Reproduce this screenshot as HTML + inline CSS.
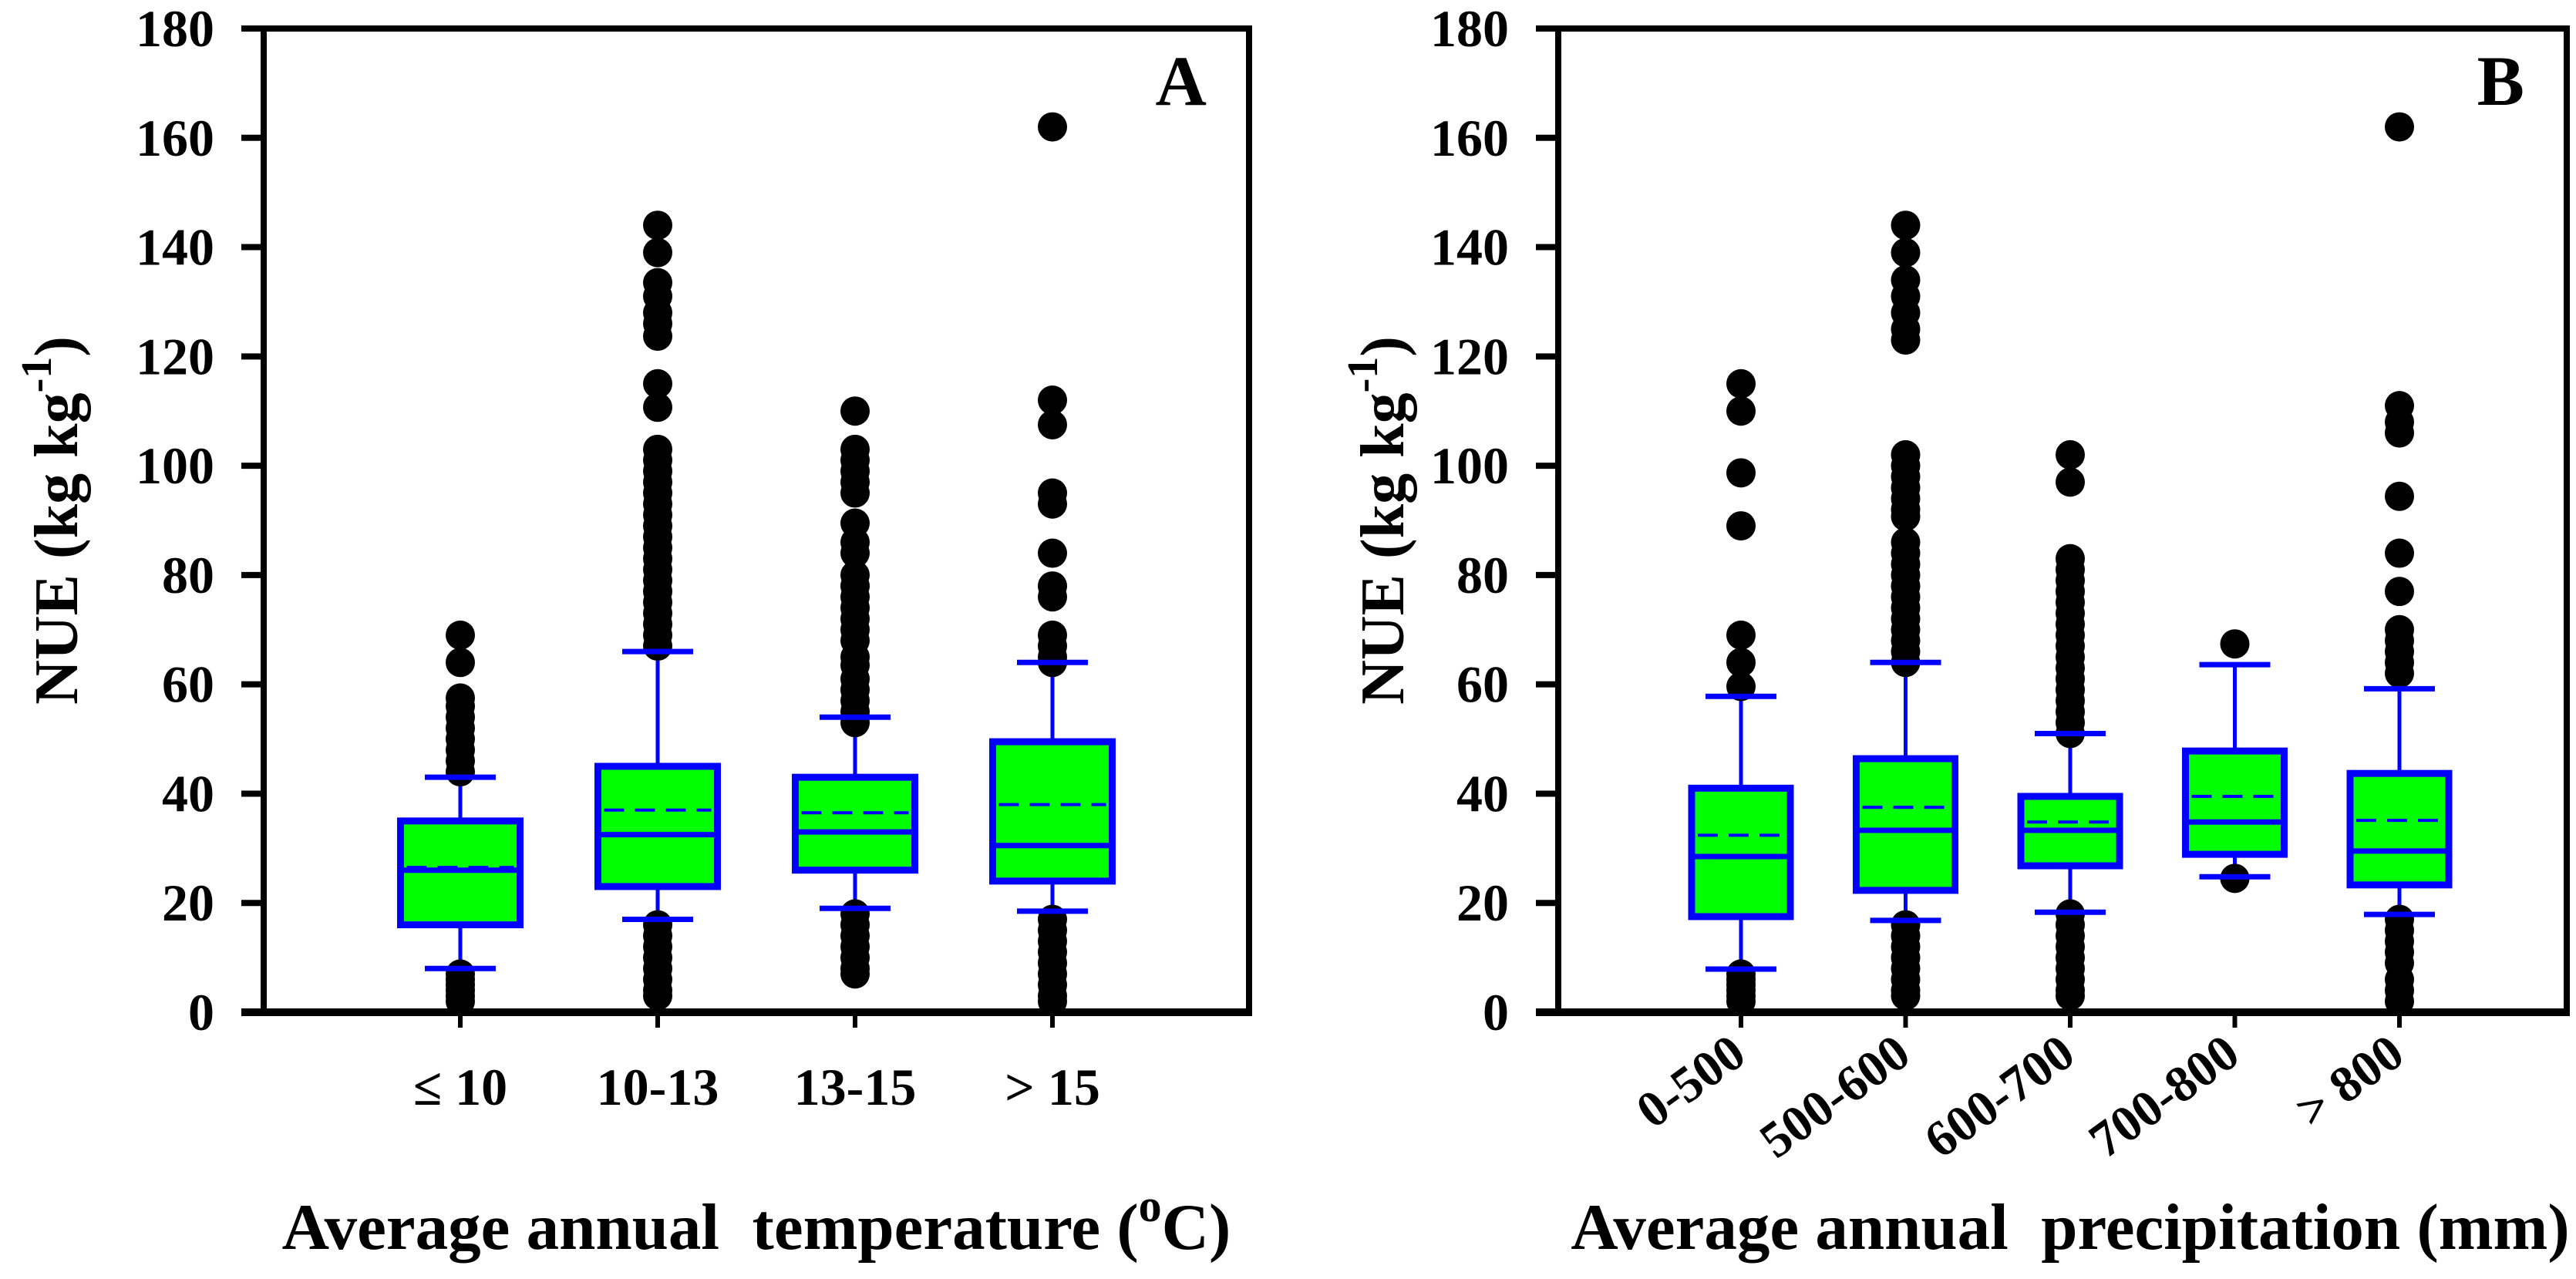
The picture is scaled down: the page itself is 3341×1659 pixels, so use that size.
<!DOCTYPE html>
<html><head><meta charset="utf-8"><style>
html,body{margin:0;padding:0;background:#fff;}
svg{display:block;}
text{font-family:"Liberation Serif",serif;font-weight:bold;fill:#000;}
</style></head><body>
<svg id="chart" width="3341" height="1659" viewBox="0 0 3341 1659" xmlns="http://www.w3.org/2000/svg">
<rect x="0" y="0" width="3341" height="1659" fill="#ffffff"/>
</svg>
<script>
// ---------- data ----------
const yTicks = [0,20,40,60,80,100,120,140,160,180];
const catsA = ["≤ 10","10-13","13-15","> 15"];
const q1A  = [16, 23, 26, 24];
const medA = [26, 32.5, 33, 30.5];
const meanA= [26.5, 37, 36.5, 38];
const q3A  = [35, 45, 43, 49.5];
const lowA = [8, 17, 19, 18.5];
const highA= [43, 66, 54, 64];
const outA0 = [69,64,57.5,56,54,52,50,48,46,44, 7,6,5,4,3,2];
const outA1 = [144,139,133.5,131,128,126,123.7,115,110.7,103,101,99,97,95,93,91,89,87,85,83,81,79,77,75,73,71,69,67, 16,14,12,10,8,6,4,3];
const outA2 = [110,103,101,99,97,95,89.5,86,84,80,78,76,74,72,70,68,65,63.5,61,59,57,55,53, 18,16,14,12,10,8,7];
const outA3 = [162,112,107.5,95,93,84,78,76,69,67,65,64, 17,15,13,11,9,7,5,3,2];
const catsB = ["0-500","500-600","600-700","700-800","> 800"];
const q1B  = [17.5, 22.3, 26.8, 28.9, 23.3];
const medB = [28.5, 33.3, 33.3, 34.8, 29.5];
const meanB= [32.4, 37.5, 34.8, 39.5, 35.1];
const q3B  = [41, 46.4, 39.5, 47.8, 43.7];
const lowB = [7.9, 16.8, 18.3, 24.8, 17.9];
const highB= [57.8, 64, 51, 63.6, 59.2];
const outB0 = [115,110,98.7,89,69,64,59.6, 7,6,5,4,3,2];
const outB1 = [144,139,134,131,128,125,123,102,100,98,96,94,92,90.7,86,84,82,80,78,76,74,72,70,68,66,64, 16,14,12,10,8,6,4,3];
const outB2 = [102,97,83,81,79,77,75,73,71,69,67,65,63,61,59,57,55,53,51, 18,16,14,12,10,8,6,4,3];
const outB3 = [67.4, 24.5];
const outB4 = [162,111,108,106,94.4,84,77,70,68,66,64,62, 17,15,13,11,9,6,4,2];
</script>
<script>
const NS = "http://www.w3.org/2000/svg";
const svg = document.getElementById("chart");
function mk(tag, attrs, parent){
  const e = document.createElementNS(NS, tag);
  for (const k in attrs) e.setAttribute(k, attrs[k]);
  (parent||svg).appendChild(e);
  return e;
}
const Y0 = 1313, Y180 = 37;
function yS(v){ return Y0 - (v/180)*(Y0-Y180); }

function panel(opt){
  const g = mk("g", {});
  
  
  const L = opt.left, R = opt.right;
  function xS(i){ return opt.x0 + i*opt.step; }
  const fr = mk("rect", {x:L, y:Y180, width:R-L, height:Y0-Y180, fill:"none", stroke:"#000", "stroke-width":8}, g);
  
  
  yTicks.forEach(v=>{
    const t = mk("line", {x1:L-29, x2:L, y1:yS(v), y2:yS(v), stroke:"#000", "stroke-width":8}, g);
    
    
    const tx = mk("text", {x:L-64, y:yS(v)+23, "text-anchor":"end", "font-size":68}, g);
    tx.textContent = v;
    
    
  });
  opt.cats.forEach((c,i)=>{
    const cx = xS(i);
    const bg = mk("g", {}, g);
    
    
    const tk = mk("line", {x1:cx, x2:cx, y1:Y0, y2:Y0+20, stroke:"#000", "stroke-width":6}, g);
    
    
    const bw = opt.bw, cw = 92;
    const w1 = mk("line", {x1:cx, x2:cx, y1:yS(opt.q3[i]), y2:yS(opt.high[i]), stroke:"#0000ff", "stroke-width":5}, bg);
    
    
    const w2 = mk("line", {x1:cx, x2:cx, y1:yS(opt.q1[i]), y2:yS(opt.low[i]), stroke:"#0000ff", "stroke-width":5}, bg);
    
    
    opt.outs[i].forEach(v=>{
      const d = mk("circle", {cx:cx, cy:yS(v), r:19, fill:"#000"}, bg);
      
      
    });
    const c1 = mk("line", {x1:cx-cw/2, x2:cx+cw/2, y1:yS(opt.high[i]), y2:yS(opt.high[i]), stroke:"#0000ff", "stroke-width":7}, bg);
    
    
    const c2 = mk("line", {x1:cx-cw/2, x2:cx+cw/2, y1:yS(opt.low[i]), y2:yS(opt.low[i]), stroke:"#0000ff", "stroke-width":7}, bg);
    
    
    const b = mk("rect", {x:cx-bw/2, y:yS(opt.q3[i]), width:bw, height:yS(opt.q1[i])-yS(opt.q3[i]), fill:"#00ff00", stroke:"#0000ff", "stroke-width":9}, bg);
    
    
    const md = mk("line", {x1:cx-bw/2, x2:cx+bw/2, y1:yS(opt.med[i]), y2:yS(opt.med[i]), stroke:"#0000ff", "stroke-width":7}, bg);
    
    
    const mn = mk("line", {x1:cx-bw/2+8, x2:cx+bw/2-8, y1:yS(opt.mean[i]), y2:yS(opt.mean[i]), stroke:"#0000ff", "stroke-width":4, "stroke-dasharray":"26 14"}, bg);
    
    
    let lb;
    if (opt.rotate){
      lb = mk("text", {x:cx+10, y:Y0+62, "text-anchor":"end", "font-size":66, transform:"rotate(-36 "+(cx+10)+" "+(Y0+62)+")"}, g);
    } else {
      lb = mk("text", {x:cx, y:Y0+120, "text-anchor":"middle", "font-size":68}, g);
    }
    lb.textContent = c;
    
    
  });
  const ax = mk("line", {x1:L-29, x2:R+4, y1:Y0, y2:Y0, stroke:"#000", "stroke-width":10}, g);
  
  
  const yt = mk("text", {x:0, y:0, "text-anchor":"middle", "font-size":80, transform:"translate("+(opt.ytx)+",675) rotate(-90)"}, g);
  
  
  yt.appendChild(document.createTextNode("NUE (kg kg"));
  const sp = mk("tspan", {"font-size":56, dy:-34}, yt);
  sp.textContent = "-1";
  const sp2 = mk("tspan", {dy:34}, yt);
  sp2.textContent = ")";
  const xt = mk("text", {x:opt.xtx, y:1620, "text-anchor":"middle", "font-size":85}, g);
  
  
  xt.appendChild(document.createTextNode(opt.xtitle));
  if (opt.sup){
    const s1 = mk("tspan", {"font-size":60, dy:-36}, xt); s1.textContent = "o";
    const s2 = mk("tspan", {dy:36}, xt); s2.textContent = "C)";
  }
  const pl = mk("text", {x:R-55, y:136, "text-anchor":"end", "font-size":92}, g);
  pl.textContent = opt.letter;
  
  
}

panel({name:"panel-a-temperature", left:342, right:1620, x0:597, step:256, bw:155,
  cats:catsA, q1:q1A, med:medA, mean:meanA, q3:q3A, low:lowA, high:highA,
  outs:[outA0,outA1,outA2,outA3], rotate:false, ytx:100, xtx:981,
  xtitle:"Average annual\u00a0 temperature (", sup:true, letter:"A"});
panel({name:"panel-b-precipitation", left:2021, right:3329, x0:2258, step:213.5, bw:128,
  cats:catsB, q1:q1B, med:medB, mean:meanB, q3:q3B, low:lowB, high:highB,
  outs:[outB0,outB1,outB2,outB3,outB4], rotate:true, ytx:1820, xtx:2685,
  xtitle:"Average annual\u00a0 precipitation (mm)", sup:false, letter:"B"});
</script>
</body></html>
